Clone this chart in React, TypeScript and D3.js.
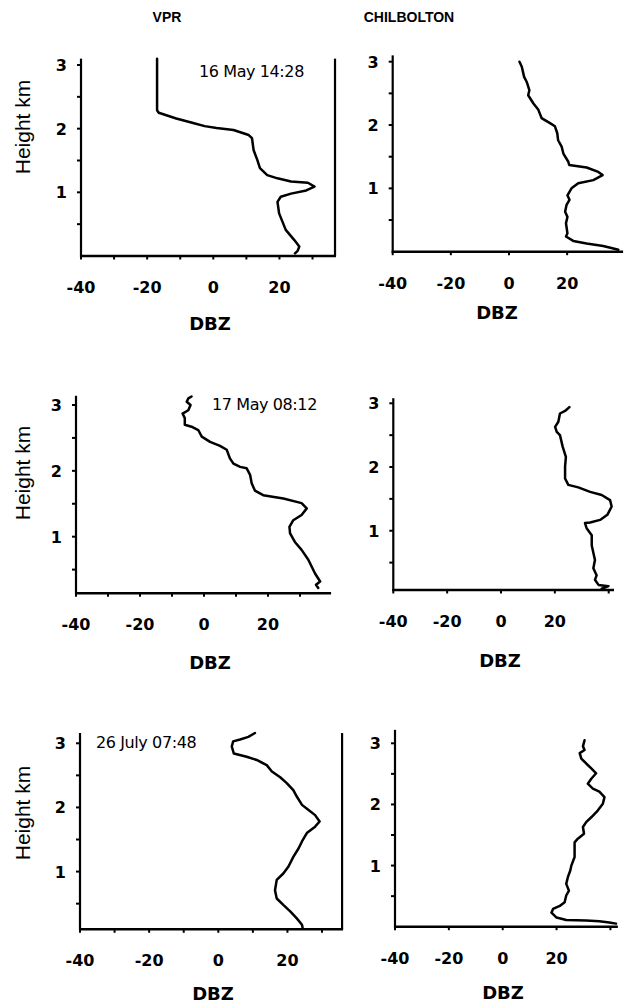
import React from 'react';
import * as d3 from 'd3';

// ---- Data (dBZ, height km) ----
const columnTitles = ['VPR', 'CHILBOLTON'];
const dateLabels = ['16 May 14:28', '17 May 08:12', '26 July 07:48'];
const yTickValues = [0.5, 1, 1.5, 2, 2.5, 3];
const yTickLabelValues = [1, 2, 3];
const xTickLabelValues = [-40, -20, 0, 20];
const vprXTicks = [-40, -30, -20, -10, 0, 10, 20, 30];
const chilXTicks = [-40, -20, 0, 20, 40];

const vpr16May: [number, number][] = [
  [-17, 3.1], [-17, 2.29], [-16.5, 2.25], [-11.2, 2.16], [-6.1, 2.09], [-2.6, 2.04], [1.0, 2.01],
  [6.1, 1.98], [10.7, 1.9], [11.7, 1.85], [12.2, 1.66], [13.3, 1.51], [14.1, 1.38], [16.3, 1.27],
  [19.4, 1.22], [23.5, 1.17], [28.6, 1.15], [30.6, 1.09], [28.1, 1.03], [23.5, 0.98], [20.4, 0.93],
  [19.4, 0.85], [19.9, 0.67], [20.9, 0.54], [21.9, 0.41], [24.5, 0.25], [26.0, 0.15], [25.5, 0.08], [24.7, 0.04],
];
const chil16May: [number, number][] = [
  [3.6, 3.0], [4.4, 2.92], [5.2, 2.76], [6.1, 2.68], [7.0, 2.55], [6.6, 2.47], [8.4, 2.34], [10.1, 2.24],
  [11.2, 2.11], [14.1, 2.03], [15.8, 1.98], [16.6, 1.87], [16.9, 1.76], [18.1, 1.66], [18.7, 1.55],
  [20.4, 1.42], [20.7, 1.37], [26.7, 1.33], [30.7, 1.26], [32.2, 1.21], [29.0, 1.13], [23.8, 1.08],
  [21.5, 1.0], [20.1, 0.89], [20.8, 0.82], [19.8, 0.74], [19.3, 0.63], [20.1, 0.55], [19.6, 0.45],
  [20.1, 0.29], [19.6, 0.24], [22.1, 0.17], [26.7, 0.13], [32.4, 0.09], [35.9, 0.05], [37.6, 0.03],
];
const vpr17May: [number, number][] = [
  [-3.9, 3.13], [-4.9, 3.1], [-5.4, 3.05], [-4.2, 3.0], [-4.9, 2.92], [-6.7, 2.87], [-6.0, 2.8],
  [-6.0, 2.7], [-3.9, 2.67], [-1.8, 2.62], [-0.7, 2.52], [1.9, 2.44], [5.0, 2.38], [7.1, 2.32],
  [8.1, 2.19], [9.2, 2.11], [11.3, 2.06], [13.3, 2.04], [14.4, 1.94], [14.9, 1.81], [15.9, 1.7],
  [18.5, 1.63], [24.8, 1.58], [30.5, 1.51], [32.1, 1.43], [30.5, 1.33], [27.9, 1.25], [26.7, 1.15],
  [26.9, 1.05], [28.4, 0.92], [30.5, 0.8], [32.6, 0.65], [34.7, 0.44], [36.3, 0.32], [35.0, 0.27], [35.7, 0.22],
];
const chil17May: [number, number][] = [
  [25.4, 2.94], [23.8, 2.88], [21.9, 2.84], [21.3, 2.71], [20.1, 2.63], [20.7, 2.55], [21.9, 2.5],
  [22.9, 2.32], [24.1, 2.16], [23.8, 2.01], [23.8, 1.82], [25.0, 1.72], [28.7, 1.68], [33.1, 1.61],
  [37.4, 1.56], [40.5, 1.48], [41.1, 1.38], [39.5, 1.25], [36.8, 1.17], [33.1, 1.13], [31.2, 1.12],
  [31.8, 1.04], [33.7, 0.93], [33.7, 0.77], [34.9, 0.54], [34.3, 0.41], [35.5, 0.3], [34.9, 0.23],
  [36.2, 0.15], [39.9, 0.13], [37.4, 0.09],
];
const vpr26July: [number, number][] = [
  [10.6, 3.16], [8.7, 3.1], [6.3, 3.06], [4.3, 3.03], [3.9, 2.95], [4.5, 2.84], [8.2, 2.79], [11.1, 2.74],
  [14.0, 2.66], [15.5, 2.56], [17.9, 2.47], [19.8, 2.38], [21.7, 2.27], [22.7, 2.17], [24.2, 2.04],
  [26.1, 1.96], [28.0, 1.88], [29.3, 1.78], [28.0, 1.7], [25.6, 1.6], [24.2, 1.47], [23.2, 1.36],
  [21.7, 1.23], [20.3, 1.08], [18.8, 0.97], [16.9, 0.87], [16.4, 0.71], [16.9, 0.58], [18.8, 0.48],
  [20.8, 0.38], [22.7, 0.27], [24.2, 0.17], [24.4, 0.12],
];
const chil26July: [number, number][] = [
  [30.4, 3.05], [29.8, 2.95], [30.4, 2.89], [28.6, 2.84], [29.2, 2.75], [31.0, 2.67], [32.9, 2.59],
  [34.7, 2.51], [32.9, 2.42], [31.6, 2.34], [33.5, 2.26], [35.9, 2.21], [37.8, 2.12], [37.2, 2.01],
  [35.3, 1.9], [32.9, 1.79], [31.0, 1.71], [29.8, 1.63], [30.2, 1.52], [27.9, 1.44], [26.7, 1.38],
  [26.7, 1.25], [26.7, 1.14], [25.5, 1.0], [25.1, 0.92], [24.2, 0.81], [23.6, 0.7], [24.6, 0.59],
  [23.6, 0.51], [23.0, 0.4], [21.2, 0.34], [18.7, 0.29], [18.1, 0.23], [20.0, 0.15], [23.6, 0.11],
  [31.0, 0.1], [35.9, 0.09], [39.6, 0.07], [42.1, 0.05],
];

// ---- Layout of the six panels ----
type Panel = {
  data: [number, number][];
  x40: number; x0: number; xMax: number;
  yMin: number; yMinPx: number; y3Px: number; yTop: number;
  xTicks: number[]; rightLine: boolean;
  label?: string; labelX?: number; labelY?: number;
  dbzX: number; dbzY: number; heightY?: number;
};

const panels: Panel[] = [
  { data: vpr16May, x40: 81, x0: 213.3, xMax: 36.8, yMin: 0, yMinPx: 256, y3Px: 65, yTop: 3.1,
    xTicks: vprXTicks, rightLine: true, label: dateLabels[0], labelX: 199, labelY: 77, dbzX: 210, dbzY: 330, heightY: 127 },
  { data: chil16May, x40: 392.7, x0: 509, xMax: 38.9, yMin: 0, yMinPx: 251.7, y3Px: 61.7, yTop: 3.1,
    xTicks: chilXTicks, rightLine: false, dbzX: 497, dbzY: 319 },
  { data: vpr17May, x40: 76, x0: 204, xMax: 39.4, yMin: 0.14, yMinPx: 593.3, y3Px: 405, yTop: 3.14,
    xTicks: vprXTicks, rightLine: false, label: dateLabels[1], labelX: 212, labelY: 410, dbzX: 210, dbzY: 669, heightY: 473 },
  { data: chil17May, x40: 393.3, x0: 501, xMax: 41.6, yMin: 0.07, yMinPx: 590, y3Px: 403.3, yTop: 3.08,
    xTicks: chilXTicks, rightLine: false, dbzX: 500, dbzY: 667 },
  { data: vpr26July, x40: 80, x0: 218.3, xMax: 35.8, yMin: 0.1, yMinPx: 929.3, y3Px: 743.3, yTop: 3.16,
    xTicks: vprXTicks, rightLine: true, label: dateLabels[2], labelX: 96, labelY: 748, dbzX: 213, dbzY: 1000, heightY: 813 },
  { data: chil26July, x40: 395, x0: 502.7, xMax: 42.4, yMin: 0, yMinPx: 926.7, y3Px: 743.3, yTop: 3.22,
    xTicks: chilXTicks, rightLine: false, dbzX: 503, dbzY: 999 },
];

const FONT = 'DejaVu Sans, Liberation Sans, sans-serif';
const ARIAL = 'Liberation Sans, Arial, sans-serif';

function PanelView({ p }: { p: Panel }) {
  const x = d3.scaleLinear().domain([-40, 0]).range([p.x40, p.x0]);
  const y = d3.scaleLinear().domain([p.yMin, 3]).range([p.yMinPx, p.y3Px]);
  const line = d3.line<[number, number]>().x(d => x(d[0])).y(d => y(d[1])).curve(d3.curveLinear);
  const xL = x(-40), xR = x(p.xMax), yB = y(p.yMin), yT = y(p.yTop);
  return (
    <g>
      <line x1={xL} x2={xL} y1={yT} y2={yB + 1} stroke="#000" strokeWidth={2.2} />
      <line x1={xL - 1} x2={xR + 1} y1={yB} y2={yB} stroke="#000" strokeWidth={2.4} />
      {p.rightLine && <line x1={xR} x2={xR} y1={yT} y2={yB} stroke="#000" strokeWidth={2.2} />}
      {yTickValues.filter(v => v >= p.yMin).map(v => (
        <line key={'yt' + v} x1={xL - 4} x2={xL} y1={y(v)} y2={y(v)} stroke="#000" strokeWidth={2} />
      ))}
      {p.xTicks.filter(v => v <= p.xMax + 0.5).map(v => (
        <line key={'xt' + v} x1={x(v)} x2={x(v)} y1={yB} y2={yB + 3.5} stroke="#000" strokeWidth={2} />
      ))}
      {yTickLabelValues.map(v => (
        <text key={'yl' + v} x={xL - 14} y={y(v) + 6} textAnchor="end" fontFamily={FONT}
          fontWeight="bold" fontSize={16} fill="#000">{v}</text>
      ))}
      {xTickLabelValues.map(v => (
        <text key={'xl' + v} x={x(v)} y={yB + 37} textAnchor="middle" fontFamily={FONT}
          fontWeight="bold" fontSize={16} fill="#000">{v}</text>
      ))}
      <text x={p.dbzX} y={p.dbzY} textAnchor="middle" fontFamily={FONT} fontWeight="bold"
        fontSize={18} fill="#000">DBZ</text>
      {p.heightY !== undefined && (
        <text transform={`translate(30,${p.heightY}) rotate(-90)`} textAnchor="middle"
          fontFamily={ARIAL} fontSize={21} fill="#000">Height km</text>
      )}
      {p.label && (
        <text x={p.labelX} y={p.labelY} fontFamily={FONT} fontSize={16} fill="#000"
          letterSpacing={-0.4}>{p.label}</text>
      )}
      <path d={line(p.data) || ''} fill="none" stroke="#000" strokeWidth={2.5}
        strokeLinejoin="round" strokeLinecap="round" />
    </g>
  );
}

export default function App() {
  return (
    <svg width={633} height={1005} style={{ position: 'absolute', left: 0, top: 0, background: '#fff' }}>
      <rect x={0} y={0} width={633} height={1005} fill="#fff" />
      <text x={167} y={22} textAnchor="middle" fontFamily={ARIAL}
        fontWeight="bold" fontSize={14} fill="#000">{columnTitles[0]}</text>
      <text x={409} y={22} textAnchor="middle" fontFamily={ARIAL}
        fontWeight="bold" fontSize={14} fill="#000">{columnTitles[1]}</text>
      {panels.map((p, i) => <PanelView key={i} p={p} />)}
    </svg>
  );
}
